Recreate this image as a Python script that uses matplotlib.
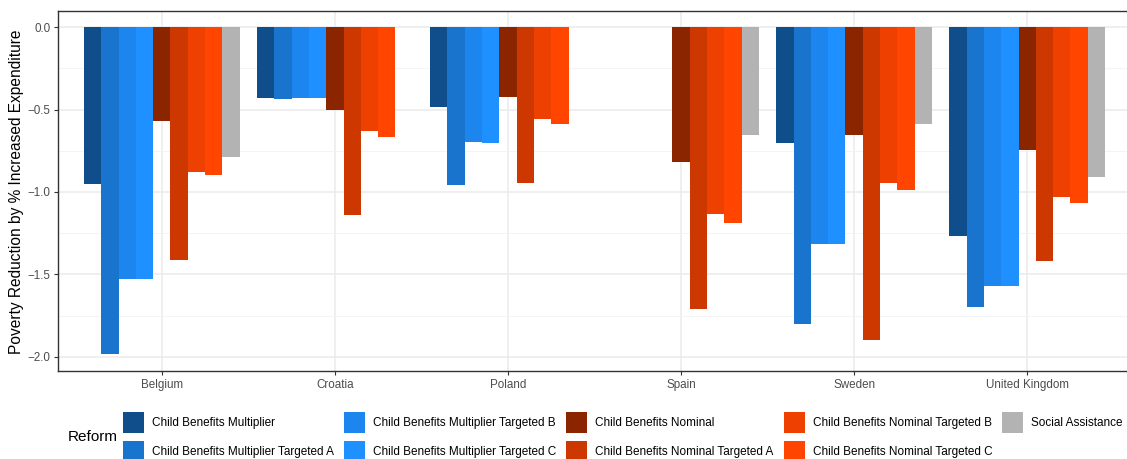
import matplotlib

matplotlib.use("Agg")
import matplotlib.pyplot as plt
import numpy as np
from matplotlib.patches import Patch

plt.rcParams["font.family"] = ["Liberation Sans", "DejaVu Sans"]

countries = ["Belgium", "Croatia", "Poland", "Spain", "Sweden", "United Kingdom"]

reforms = [
    "Child Benefits Multiplier",
    "Child Benefits Multiplier Targeted A",
    "Child Benefits Multiplier Targeted B",
    "Child Benefits Multiplier Targeted C",
    "Child Benefits Nominal",
    "Child Benefits Nominal Targeted A",
    "Child Benefits Nominal Targeted B",
    "Child Benefits Nominal Targeted C",
    "Social Assistance",
]

colors = [
    "#104E8B", "#1874CD", "#1C86EE", "#1E90FF",
    "#8B2500", "#CD3700", "#EE4000", "#FF4500",
    "#B3B3B3",
]

nan = np.nan
# one list per reform, values in country order
cb_multiplier = [-0.954, -0.427, -0.486, nan, -0.700, -1.265]
cb_multiplier_a = [-1.984, -0.433, -0.956, nan, -1.800, -1.696]
cb_multiplier_b = [-1.528, -0.429, -0.694, nan, -1.314, -1.569]
cb_multiplier_c = [-1.530, -0.429, -0.704, nan, -1.314, -1.569]
cb_nominal = [-0.571, -0.502, -0.421, -0.816, -0.654, -0.743]
cb_nominal_a = [-1.414, -1.138, -0.945, -1.708, -1.897, -1.417]
cb_nominal_b = [-0.881, -0.628, -0.555, -1.132, -0.943, -1.028]
cb_nominal_c = [-0.898, -0.666, -0.585, -1.186, -0.986, -1.065]
social_assistance = [-0.788, nan, nan, -0.654, -0.585, -0.907]

values = [
    cb_multiplier, cb_multiplier_a, cb_multiplier_b, cb_multiplier_c,
    cb_nominal, cb_nominal_a, cb_nominal_b, cb_nominal_c,
    social_assistance,
]

W, H = 1127, 459
fig = plt.figure(figsize=(W / 100, H / 100), dpi=100)
ax = fig.add_axes([58 / W, 1 - 371 / H, (1131 - 58) / W, (371 - 11) / H])

x = np.arange(len(countries))
bar_w = 0.9 / len(reforms)
for j, (vals, col) in enumerate(zip(values, colors)):
    ax.bar(x + (j - (len(reforms) - 1) / 2) * bar_w, vals, width=bar_w,
           color=col, linewidth=0, zorder=3)

ax.set_xlim(-0.6, len(countries) - 0.4)
ax.set_ylim(-2.087, 0.099)
ax.set_xticks(x)
ax.set_xticklabels(countries)
ax.set_yticks([0, -0.5, -1.0, -1.5, -2.0])
ax.set_yticklabels(["0.0", "\u22120.5", "\u22121.0", "\u22121.5", "\u22122.0"])
ax.set_yticks([-0.25, -0.75, -1.25, -1.75], minor=True)

ax.grid(True, which="major", color="#EBEBEB", linewidth=1.1, zorder=0)
ax.grid(True, which="minor", axis="y", color="#F2F2F2", linewidth=0.6, zorder=0)
ax.set_axisbelow(True)
ax.tick_params(axis="both", which="major", length=3, width=0.8, color="#333333",
               labelcolor="#4D4D4D", labelsize=8.4, pad=2.5)
ax.tick_params(axis="y", which="minor", length=0)
for sp in ax.spines.values():
    sp.set_color("#333333")
    sp.set_linewidth(1.0)

fig.text(17 / W, 1 - 192 / H, "Poverty Reduction by % Increased Expenditure",
         rotation=90, ha="center", va="center", fontsize=11.2, color="black")

handles = [Patch(facecolor=c, edgecolor="none") for c in colors]
fs = 8.5
px = fs * 100 / 72
key = 21 / px
# legend patch height = fontsize * (0.65 * handleheight + 0.245)
fig.legend(handles, reforms, loc="upper left",
           bbox_to_anchor=(123 / W, 1 - 412 / H), ncol=5, frameon=False,
           fontsize=fs, handlelength=key, handleheight=(key - 0.245) / 0.65,
           handletextpad=8 / px, columnspacing=10 / px, labelspacing=8 / px,
           borderpad=0, borderaxespad=0)
fig.text(68 / W, 1 - 437 / H, "Reform", ha="left", va="center", fontsize=11)

fig.savefig("out.png", dpi=100)
